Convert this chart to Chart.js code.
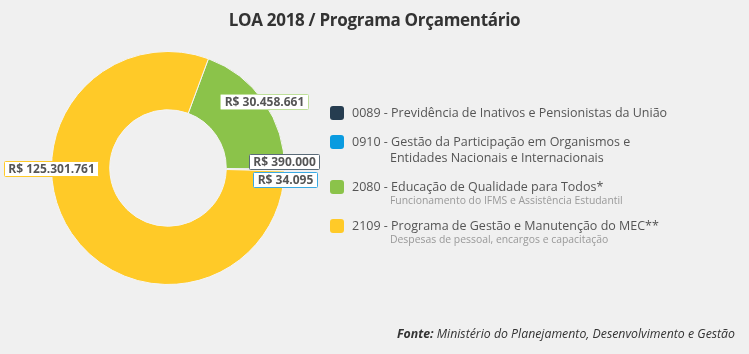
<!DOCTYPE html>
<html>
<head>
<meta charset="utf-8">
<script src="https://cdn.jsdelivr.net/npm/chart.js@4/dist/chart.umd.min.js"></script>
<style>
  body { margin: 0; background: #f0f0f0; font-family: "Open Sans", sans-serif; }
  #wrap { position: relative; width: 749px; height: 354px; overflow: hidden; }
  #pie { position: absolute; left: 0; top: 0; }
  h1 { position: absolute; top: 8px; left: 0; width: 749px; margin: 0; text-align: center;
       font-size: 17px; letter-spacing: -0.3px; font-weight: bold; color: #333; line-height: normal; }
  #legend { position: absolute; left: 330px; top: 105px; }
  .item { position: relative; padding-left: 22px; color: #555; font-size: 12.5px; line-height: 16px; margin-bottom: 13px; }
  .item .sq { position: absolute; left: 0; top: 1px; width: 14px; height: 14px; border-radius: 3px; }
  .item .wrap2 { padding-left: 38px; }
  .item .sub { font-size: 10.4px; color: #999; line-height: 10px; margin-left: 38px; }
  #fonte { position: absolute; right: 14px; top: 325px; font-size: 12.3px; font-style: italic; color: #333; }
</style>
</head>
<body>
<div id="wrap">
  <canvas id="pie" width="749" height="354"></canvas>
  <h1>LOA 2018 / Programa Orçamentário</h1>
  <div id="legend"></div>
  <div id="fonte"><b>Fonte:</b> Ministério do Planejamento, Desenvolvimento e Gestão</div>
</div>
<script>
// legend order
const codes = ["0089", "0910", "2080", "2109"];
const names = [
    "Previdência de Inativos e Pensionistas da União",
    "Gestão da Participação em Organismos e|Entidades Nacionais e Internacionais",
    "Educação de Qualidade para Todos*",
    "Programa de Gestão e Manutenção do MEC**"
];
const notes = ["", "", "Funcionamento do IFMS e Assistência Estudantil", "Despesas de pessoal, encargos e capacitação"];
const values = [390000, 34095, 30458661, 125301761];
const colors = ["#263d50", "#0a9be0", "#8bc34a", "#ffca28"];
const labelBorders = ["#5a6b78", "#3aa9e3", "#bfe09a", "#ffca28"];

// order of the slices round the ring, clockwise from the top
const drawOrder = [2, 0, 1, 3];
// label angle (degrees, clockwise from top); null = middle of the slice
const labelAngle = [null, null, null, 270];

function money(v) {
    return "R$ " + v.toString().replace(/\B(?=(\d{3})+(?!\d))/g, ".");
}

// html legend
let legendHtml = "";
for (let i = 0; i < codes.length; i++) {
    const parts = names[i].split("|");
    legendHtml += `<div class="item"><span class="sq" style="background:${colors[i]}"></span>${codes[i]} - ${parts[0]}`;
    if (parts[1]) legendHtml += `<div class="wrap2">${parts[1]}</div>`;
    if (notes[i]) legendHtml += `<div class="sub">${notes[i]}</div>`;
    legendHtml += `</div>`;
}
document.getElementById("legend").innerHTML = legendHtml;

const labelPlugin = {
    id: "boxLabels",
    afterDatasetsDraw(chart) {
        const ctx = chart.ctx;
        const meta = chart.getDatasetMeta(0);
        ctx.save();
        ctx.font = "bold 12px 'Open Sans'";
        const boxes = [];
        meta.data.forEach((arc, j) => {
            const i = drawOrder[j];
            const p = arc.getProps(["x", "y", "startAngle", "endAngle", "outerRadius"], true);
            let a = (p.startAngle + p.endAngle) / 2;
            if (labelAngle[i] !== null) a = (labelAngle[i] - 90) * Math.PI / 180;
            const text = money(values[i]);
            const w = ctx.measureText(text).width + 8;
            const h = 15;
            boxes.push({ i, text, w, h, cx: p.x + p.outerRadius * Math.cos(a), cy: p.y + p.outerRadius * Math.sin(a) });
        });
        // push overlapping labels apart vertically
        boxes.sort((a, b) => a.cy - b.cy);
        for (let k = 1; k < boxes.length; k++) {
            const a = boxes[k - 1], b = boxes[k];
            const overlapX = Math.abs(a.cx - b.cx) < (a.w + b.w) / 2;
            const need = (a.h + b.h) / 2 + 3 - (b.cy - a.cy);
            if (overlapX && need > 0) { a.cy -= need / 2; b.cy += need / 2; }
        }
        boxes.forEach(b => {
            const x = Math.round(b.cx - b.w / 2) + 0.5, y = Math.round(b.cy - b.h / 2) + 0.5;
            ctx.fillStyle = "#fff";
            ctx.strokeStyle = labelBorders[b.i];
            ctx.lineWidth = 1;
            ctx.beginPath();
            ctx.roundRect(x, y, Math.round(b.w), b.h, 1);
            ctx.fill();
            ctx.stroke();
            ctx.fillStyle = "#555";
            ctx.textAlign = "center";
            ctx.textBaseline = "middle";
            ctx.fillText(b.text, x + Math.round(b.w) / 2, y + b.h / 2 + 0.5);
        });
        ctx.restore();
    }
};

new Chart(document.getElementById("pie"), {
    type: "doughnut",
    data: {
        labels: drawOrder.map(i => codes[i]),
        datasets: [{
            data: drawOrder.map(i => values[i]),
            backgroundColor: drawOrder.map(i => colors[i]),
            borderColor: "#f4f4f4",
            borderWidth: 1,
            hoverOffset: 0
        }]
    },
    options: {
        responsive: false,
        animation: false,
        rotation: 20.3,
        cutout: "50%",
        layout: { padding: { left: 51, top: 51, right: 464, bottom: 69 } },
        plugins: {
            legend: { display: false },
            tooltip: { enabled: false }
        }
    },
    plugins: [labelPlugin]
});
</script>
</body>
</html>
